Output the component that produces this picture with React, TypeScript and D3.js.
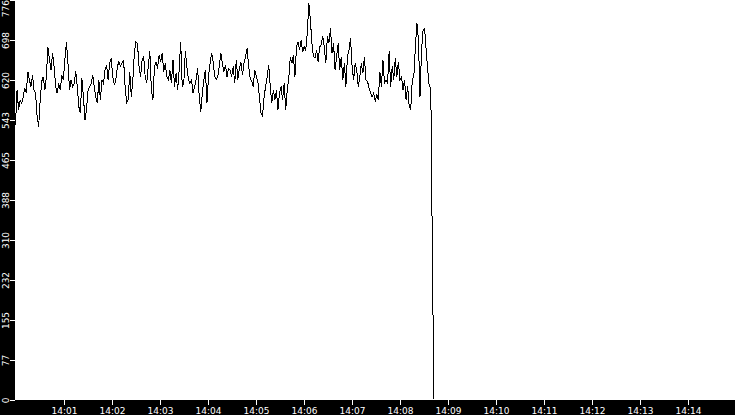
import React from 'react';
import * as d3 from 'd3';

const WIDTH = 735;
const HEIGHT = 415;

// readings, left to right (values)
const part1 = [533,601,563,582,576,588,605,595,637,621,608,630,601,595,550,530,582,618,627,601,627,685,660,640,673,647,608,595,614,601,630,621,660,695,653,601,621,608,614,637,608,569,556,624,588,543,563,601,608,614,630,608,588,576,621,582,621,614,640,650,621,653,663,627,611];
const part2 = [621,647,656,647,653,660,608,576,582,637,588,621,673,695,692,647,627,660,666,627,614,647,676,601,582,647,656,643,669,656,673,637,653,627,621,640,614,660,608,634,601,640,695,608,614,676,647,621,614,621,595,608,621,643,588,559,595,621,640,576,627,653,673,656,627,621];
const part3 = [627,647,673,653,637,650,627,643,640,627,647,614,660,621,643,656,630,653,666,682,647,624,618,608,640,627,618,588,556,550,588,608,627,650,608,576,601,582,601,563,595,608,582,614,563,601,624,666,653,669,627,685,695,679,698,676,685,679,711,770,737,692,666,663,679,656,685,689];
const part4 = [705,685,653,705,692,721,673,692,640,666,692,640,666,621,653,608,666,679,702,647,621,653,640,608,627,653,634,666,621,618,605,595,588,595,579,592,582,637,608,660,614,621,614,676,608,647,621,663,627,656,621,627,601,621,582,608,569,563,621,627,685,731,698,588,679,718,721,679,640,608,605];
const tail = [287, 0];

const series = [...part1, ...part2, ...part3, ...part4, ...tail];

const dataStart = new Date(2020, 0, 1, 14, 0, 0);
const dataEnd = new Date(2020, 0, 1, 14, 8, 43);
const axisStart = new Date(2020, 0, 1, 14, 0, 0);
const axisEnd = new Date(2020, 0, 1, 14, 15, 0);
const yMax = 776;
const yTickCount = 10;

export default function App() {
  const left = 15;
  const bottom = 400;
  const x = d3.scaleTime().domain([axisStart, axisEnd]).range([left + 0.5, WIDTH + 0.5]);
  const y = d3.scaleLinear().domain([0, yMax]).range([bottom - 0.5, 0]);
  const step = (dataEnd.getTime() - dataStart.getTime()) / (series.length - 1);
  const pts = series.map((v, i) => ({ t: new Date(dataStart.getTime() + i * step), v }));
  const line = d3.line<{ t: Date; v: number }>().x(d => x(d.t)).y(d => y(d.v));
  const xTicks = x.ticks(d3.timeMinute.every(1)!).filter(t => t > axisStart && t < axisEnd);
  const fmt = d3.timeFormat('%H:%M');
  const yTicks = d3.range(0, yTickCount + 1).map(i => (yMax * i) / yTickCount);
  const font = 'DejaVu Sans, sans-serif';

  return (
    <svg width={WIDTH} height={HEIGHT} style={{ position: 'absolute', left: 0, top: 0, display: 'block' }}>
      <rect x={0} y={0} width={WIDTH} height={HEIGHT} fill="#fff" />
      <path d={line(pts) || ''} fill="none" stroke="#000" strokeWidth={1} shapeRendering="crispEdges" />
      <rect x={0} y={0} width={left} height={HEIGHT} fill="#000" />
      <rect x={0} y={bottom} width={WIDTH} height={HEIGHT - bottom} fill="#000" />
      {yTicks.map((v, i) => {
        const ty = Math.round(y(v)) + 0.5;
        const isTop = i === yTicks.length - 1;
        return (
          <g key={'y' + i}>
            <line x1={10} x2={left} y1={ty} y2={ty} stroke="#fff" strokeWidth={1} />
            <text
              transform={`translate(9,${isTop ? 0 : ty}) rotate(-90)`}
              textAnchor={isTop ? 'end' : 'middle'}
              fill="#fff"
              fontSize={9}
              fontFamily={font}
            >
              {Math.floor(v)}
            </text>
          </g>
        );
      })}
      {xTicks.map((t, i) => {
        const tx = Math.round(x(t)) + 0.5;
        return (
          <g key={'x' + i}>
            <line x1={tx} x2={tx} y1={bottom} y2={bottom + 5} stroke="#fff" strokeWidth={1} />
            <text x={tx} y={414} textAnchor="middle" fill="#fff" fontSize={9} fontFamily={font}>
              {fmt(t)}
            </text>
          </g>
        );
      })}
    </svg>
  );
}
